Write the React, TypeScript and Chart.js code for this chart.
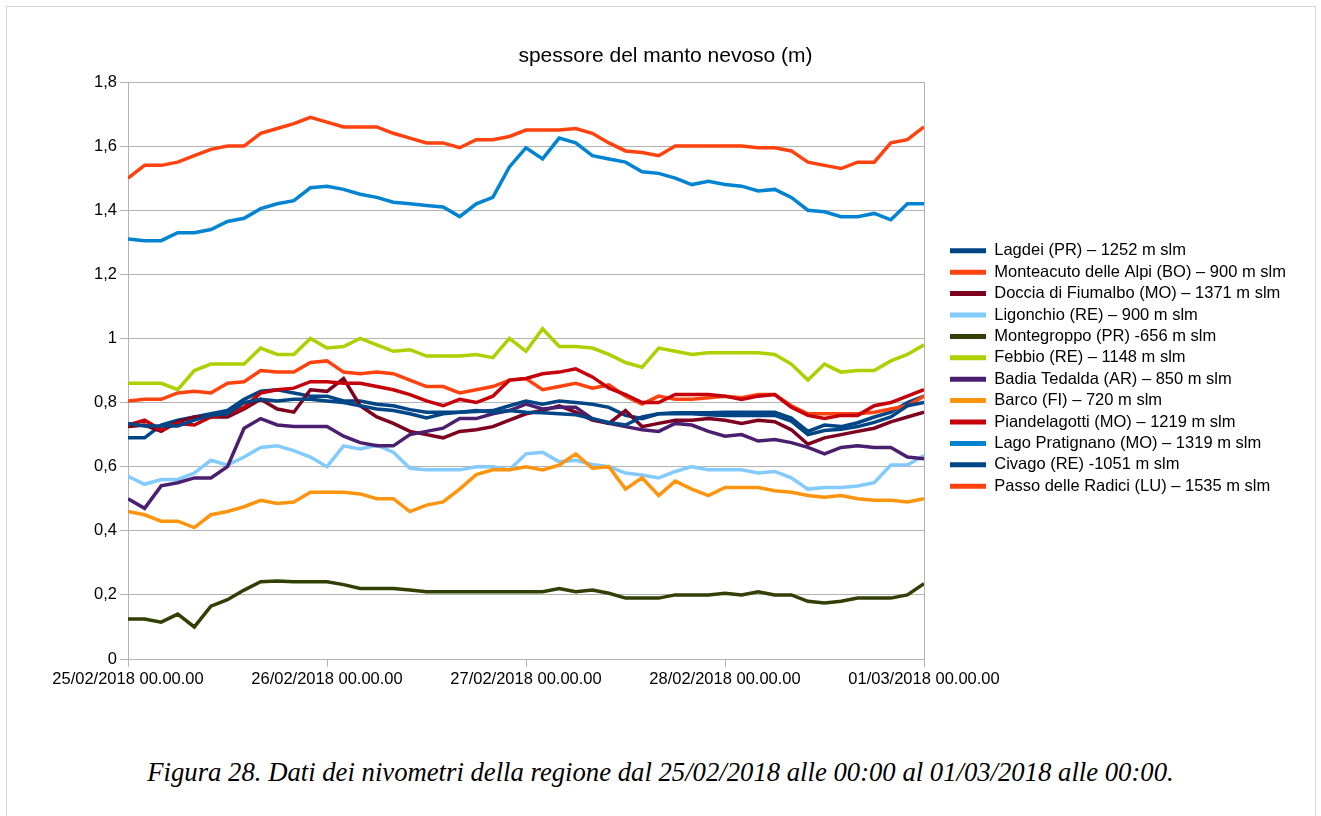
import React, { useEffect, useRef } from 'react';
import { Chart, registerables } from 'chart.js';

Chart.register(...registerables);

// time axis: hours from 25/02/2018 00:00, one reading every 2 hours
const HOURS: number[] = Array.from({ length: 49 }, (_, i) => i * 2);
const X_TICK_LABELS = [
  '25/02/2018 00.00.00',
  '26/02/2018 00.00.00',
  '27/02/2018 00.00.00',
  '28/02/2018 00.00.00',
  '01/03/2018 00.00.00',
];

const TITLE = 'spessore del manto nevoso (m)';
const CAPTION =
  'Figura 28. Dati dei nivometri della regione dal 25/02/2018 alle 00:00 al 01/03/2018 alle 00:00.';

const NAMES = [
  'Lagdei (PR) – 1252 m slm',
  'Monteacuto delle Alpi (BO) – 900 m slm',
  'Doccia di Fiumalbo (MO) – 1371 m slm',
  'Ligonchio (RE) – 900 m slm',
  'Montegroppo (PR) -656 m slm',
  'Febbio (RE) – 1148 m slm',
  'Badia Tedalda (AR) – 850 m slm',
  'Barco (FI) – 720 m slm',
  'Piandelagotti (MO) – 1219 m slm',
  'Lago Pratignano (MO) – 1319 m slm',
  'Civago (RE) -1051 m slm',
  'Passo delle Radici (LU) – 1535 m slm',
];

const COLORS = [
  '#004586', '#ff420e', '#7e0021', '#83caff', '#314004', '#aecf00',
  '#4b1f6f', '#ff950e', '#c5000b', '#0084d1', '#004586', '#ff420e',
];

const lagdei = [0.69,0.69,0.73,0.745,0.755,0.765,0.775,0.81,0.835,0.84,0.83,0.82,0.82,0.805,0.805,0.795,0.79,0.778,0.77,0.77,0.77,0.772,0.775,0.79,0.805,0.795,0.805,0.80,0.795,0.785,0.76,0.75,0.765,0.768,0.768,0.768,0.77,0.77,0.77,0.77,0.752,0.71,0.73,0.725,0.737,0.755,0.77,0.80,0.82];
const monteacuto = [0.805,0.81,0.81,0.83,0.835,0.83,0.86,0.865,0.90,0.895,0.895,0.925,0.93,0.895,0.89,0.895,0.89,0.87,0.85,0.85,0.83,0.84,0.85,0.87,0.875,0.84,0.85,0.86,0.845,0.855,0.82,0.795,0.82,0.81,0.81,0.815,0.82,0.815,0.825,0.825,0.79,0.765,0.765,0.765,0.765,0.77,0.78,0.79,0.82];
const doccia = [0.725,0.73,0.71,0.74,0.755,0.755,0.755,0.78,0.81,0.78,0.77,0.84,0.835,0.875,0.79,0.755,0.735,0.71,0.70,0.69,0.71,0.715,0.725,0.745,0.765,0.775,0.79,0.77,0.745,0.735,0.775,0.725,0.735,0.745,0.745,0.75,0.745,0.735,0.745,0.74,0.715,0.67,0.69,0.70,0.71,0.72,0.74,0.755,0.77];
const ligonchio = [0.57,0.545,0.56,0.56,0.58,0.62,0.605,0.63,0.66,0.665,0.65,0.63,0.60,0.665,0.655,0.667,0.645,0.595,0.59,0.59,0.59,0.60,0.60,0.59,0.64,0.645,0.615,0.62,0.607,0.60,0.58,0.574,0.565,0.585,0.60,0.59,0.59,0.59,0.58,0.585,0.565,0.53,0.535,0.535,0.54,0.55,0.605,0.605,0.635];
const montegroppo = [0.125,0.125,0.115,0.14,0.10,0.165,0.185,0.215,0.241,0.243,0.241,0.241,0.241,0.232,0.22,0.22,0.22,0.215,0.21,0.21,0.21,0.21,0.21,0.21,0.21,0.21,0.22,0.21,0.215,0.205,0.19,0.19,0.19,0.20,0.20,0.20,0.205,0.20,0.21,0.20,0.20,0.18,0.175,0.18,0.19,0.19,0.19,0.20,0.235];
const febbio = [0.86,0.86,0.86,0.84,0.90,0.92,0.92,0.92,0.97,0.95,0.95,1.0,0.97,0.975,1.0,0.98,0.96,0.965,0.945,0.945,0.945,0.95,0.94,1.0,0.96,1.03,0.975,0.975,0.97,0.95,0.925,0.91,0.97,0.96,0.95,0.955,0.955,0.955,0.955,0.95,0.92,0.87,0.92,0.895,0.90,0.90,0.93,0.95,0.98];
const badia = [0.50,0.47,0.54,0.55,0.565,0.565,0.60,0.72,0.75,0.73,0.725,0.725,0.725,0.695,0.675,0.665,0.665,0.70,0.71,0.72,0.75,0.75,0.765,0.775,0.795,0.78,0.785,0.785,0.75,0.735,0.725,0.715,0.71,0.735,0.73,0.71,0.695,0.70,0.68,0.685,0.675,0.66,0.64,0.66,0.665,0.66,0.66,0.63,0.625];
const barco = [0.46,0.45,0.43,0.43,0.41,0.45,0.46,0.475,0.495,0.485,0.49,0.52,0.52,0.52,0.515,0.50,0.50,0.46,0.48,0.49,0.53,0.575,0.59,0.59,0.60,0.59,0.605,0.64,0.595,0.60,0.53,0.565,0.51,0.555,0.53,0.51,0.535,0.535,0.535,0.525,0.52,0.51,0.505,0.51,0.50,0.495,0.495,0.49,0.50];
const piandelagotti = [0.73,0.745,0.715,0.735,0.73,0.755,0.765,0.785,0.83,0.84,0.845,0.865,0.865,0.86,0.86,0.85,0.84,0.825,0.805,0.79,0.81,0.80,0.82,0.87,0.875,0.89,0.895,0.905,0.88,0.845,0.825,0.80,0.80,0.825,0.825,0.825,0.82,0.81,0.82,0.825,0.785,0.76,0.75,0.76,0.76,0.79,0.80,0.82,0.84];
const lagoPratignano = [1.31,1.305,1.305,1.33,1.33,1.34,1.365,1.375,1.405,1.42,1.43,1.47,1.475,1.465,1.45,1.44,1.425,1.42,1.415,1.41,1.38,1.42,1.44,1.535,1.595,1.56,1.625,1.61,1.57,1.56,1.55,1.52,1.515,1.50,1.48,1.49,1.48,1.475,1.46,1.465,1.44,1.40,1.395,1.38,1.38,1.39,1.37,1.42,1.42];
const civago = [0.735,0.727,0.727,0.727,0.745,0.76,0.765,0.80,0.81,0.805,0.81,0.81,0.805,0.80,0.79,0.78,0.775,0.765,0.752,0.765,0.77,0.775,0.77,0.775,0.77,0.768,0.765,0.762,0.75,0.738,0.73,0.755,0.765,0.765,0.765,0.762,0.76,0.76,0.76,0.76,0.742,0.70,0.713,0.717,0.725,0.738,0.755,0.79,0.80];
const passoRadici = [1.50,1.54,1.54,1.55,1.57,1.59,1.60,1.60,1.64,1.655,1.67,1.69,1.675,1.66,1.66,1.66,1.64,1.625,1.61,1.61,1.595,1.62,1.62,1.63,1.65,1.65,1.65,1.655,1.64,1.61,1.585,1.58,1.57,1.60,1.60,1.60,1.60,1.60,1.595,1.595,1.585,1.55,1.54,1.53,1.55,1.55,1.61,1.62,1.66];

const SERIES = [
  lagdei, monteacuto, doccia, ligonchio, montegroppo, febbio,
  badia, barco, piandelagotti, lagoPratignano, civago, passoRadici,
];

const GRID = '#b3b3b3';
const SANS = "'Liberation Sans', Arial, sans-serif";

function fmtY(v: number): string {
  const r = Math.round(v * 10) / 10;
  return String(r).replace('.', ',');
}

export default function App() {
  const ref = useRef<HTMLCanvasElement | null>(null);

  useEffect(() => {
    if (!ref.current) return;
    const datasets = SERIES.map((vals, i) => ({
      label: NAMES[i],
      data: vals.map((v, j) => ({ x: HOURS[j], y: v })),
      borderColor: COLORS[i],
      backgroundColor: COLORS[i],
      borderWidth: 3.5,
      pointRadius: 0,
      tension: 0,
      order: SERIES.length - i,
    }));

    const chart = new Chart(ref.current, {
      type: 'line',
      data: { datasets },
      options: {
        animation: false,
        responsive: false,
        devicePixelRatio: 1,
        layout: { padding: { top: 0, left: 40.9, right: 30.9, bottom: 0 } },
        plugins: {
          title: {
            display: true,
            text: TITLE,
            color: '#000',
            font: { family: SANS, size: 21, weight: 'normal' },
            padding: { top: 44, bottom: 12.8 },
          },
          legend: {
            position: 'right',
            align: 'center',
            maxWidth: 345,
            labels: {
              boxWidth: 36,
              boxHeight: 5,
              padding: 4.9,
              color: '#000',
              font: { family: SANS, size: 16.5 },
              sort: (a: any, b: any) => a.datasetIndex - b.datasetIndex,
              generateLabels: (c: any) =>
                Chart.defaults.plugins.legend.labels
                  .generateLabels(c)
                  .map((l: any) => ({ ...l, lineWidth: 0 })),
            },
          },
          tooltip: { enabled: false },
        },
        scales: {
          x: {
            type: 'linear',
            min: 0,
            max: 96,
            ticks: {
              stepSize: 24,
              autoSkip: false,
              maxRotation: 0,
              color: '#000',
              font: { family: SANS, size: 16.5 },
              padding: 3,
              callback: (v: any) => X_TICK_LABELS[Math.round(Number(v) / 24)] ?? '',
            },
            grid: { drawOnChartArea: false, tickColor: GRID, tickLength: 8, color: GRID },
            border: { display: true, color: GRID },
            afterFit: (s: any) => { s.height = 78; },
          },
          y: {
            position: 'left',
            min: 0,
            max: 1.8,
            ticks: {
              stepSize: 0.2,
              color: '#000',
              font: { family: SANS, size: 16.5 },
              padding: 3,
              callback: (v: any) => fmtY(Number(v)),
            },
            grid: { color: GRID, tickColor: GRID, tickLength: 8 },
            border: { display: true, color: GRID },
            afterFit: (s: any) => { s.width = 87.1; },
          },
          y2: {
            position: 'right',
            min: 0,
            max: 1.8,
            ticks: { display: false },
            grid: { drawOnChartArea: false, drawTicks: false },
            border: { display: true, color: GRID },
            afterFit: (s: any) => { s.width = 21.1; },
          },
        },
      } as any,
    });
    return () => chart.destroy();
  }, []);

  return (
    <div
      style={{
        position: 'fixed',
        left: 0,
        top: 0,
        width: 1321,
        height: 816,
        overflow: 'hidden',
        background: '#fff',
      }}
    >
      <div
        style={{
          position: 'absolute',
          left: 6,
          top: 6,
          width: 1310,
          height: 830,
          boxSizing: 'border-box',
          border: '1px solid #d6d6d6',
        }}
      />
      <canvas
        ref={ref}
        width={1321}
        height={737}
        style={{ position: 'absolute', left: 0, top: 0, width: 1321, height: 737 }}
      />
      <div
        style={{
          position: 'absolute',
          left: 0,
          top: 758.7,
          width: 1321,
          textAlign: 'center',
          fontFamily: "'Liberation Serif', 'Times New Roman', serif",
          fontStyle: 'italic',
          fontSize: 26.7,
          lineHeight: '26.7px',
          color: '#000',
          whiteSpace: 'nowrap',
        }}
      >
        {CAPTION}
      </div>
    </div>
  );
}
